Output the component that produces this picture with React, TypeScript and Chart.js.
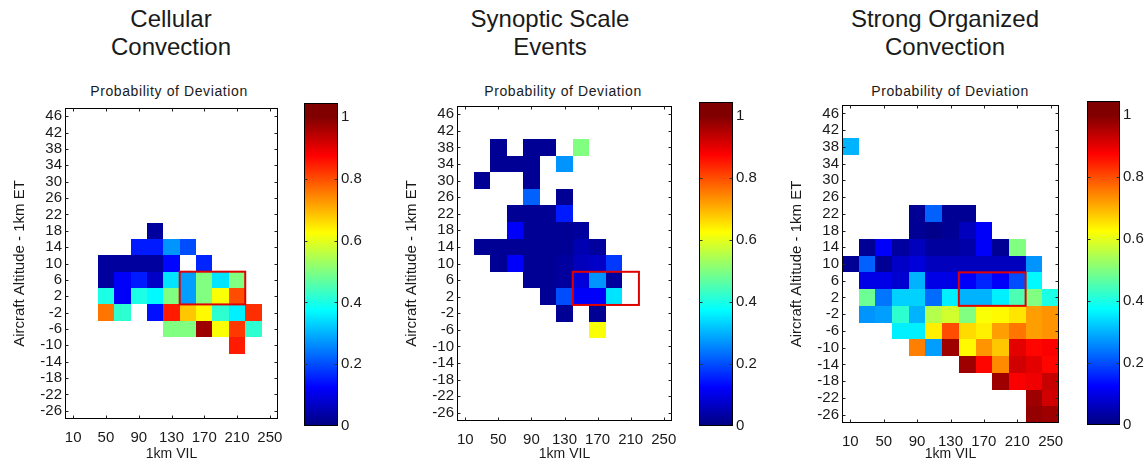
import React, { useEffect, useRef } from "react";
import { Chart, registerables } from "chart.js";

Chart.register(...registerables);

// ---------- data ----------
const vilBins = [10, 30, 50, 70, 90, 110, 130, 150, 170, 190, 210, 230, 250];
const altitudeBins = [46, 42, 38, 34, 30, 26, 22, 18, 14, 10, 6, 2, -2, -6, -10, -14, -18, -22, -26];
const vilTicks = [10, 50, 90, 130, 170, 210, 250];
const colorbarTicks = [0, 0.2, 0.4, 0.6, 0.8, 1];
const highlightVil = [140, 220];
const highlightAlt = [0, 8];

const _ = null;
const E = [_, _, _, _, _, _, _, _, _, _, _, _, _];

// rows: altitude 46 (top) .. -26 (bottom); columns: VIL 10 .. 250
const cellularGrid: (number | null)[][] = [
  E, E, E, E, E, E, E,
  [_, _, _, _, _, 0.03, _, _, _, _, _, _, _],
  [_, _, _, _, 0.15, 0.15, 0.27, 0.2, _, _, _, _, _],
  [_, _, 0.03, 0.03, 0.03, 0.03, 0.13, _, 0.16, _, _, _, _],
  [_, _, 0.03, 0.12, 0.15, 0.07, 0.35, 0.28, 0.5, 0.35, 0.5, _, _],
  [_, _, 0.4, 0.12, 0.4, 0.37, 0.5, 0.28, 0.5, 0.62, 0.8, _, _],
  [_, _, 0.76, 0.42, _, 0.14, 0.85, 0.68, 0.63, 0.42, 0.36, 0.83, _],
  [_, _, _, _, _, _, 0.5, 0.5, 0.97, 0.62, 0.82, 0.42, _],
  [_, _, _, _, _, _, _, _, _, _, 0.85, _, _],
  E, E, E, E,
];

const synopticGrid: (number | null)[][] = [
  E, E,
  [_, _, 0.02, _, 0.02, 0.02, _, 0.5, _, _, _, _, _],
  [_, _, 0.02, 0.02, 0.02, _, 0.27, _, _, _, _, _, _],
  [_, 0.02, _, _, 0.02, _, _, _, _, _, _, _, _],
  [_, _, _, _, 0.22, _, 0.02, _, _, _, _, _, _],
  [_, _, _, 0.02, 0.02, 0.02, 0.15, _, _, _, _, _, _],
  [_, _, _, 0.12, 0.02, 0.02, 0.02, 0.03, _, _, _, _, _],
  [_, 0.02, 0.02, 0.02, 0.02, 0.02, 0.02, 0.05, 0.03, _, _, _, _],
  [_, _, 0.02, 0.12, 0.02, 0.02, 0.03, 0.06, 0.07, 0.18, _, _, _],
  [_, _, _, _, 0.02, 0.02, 0.03, 0.09, 0.27, 0.03, _, _, _],
  [_, _, _, _, _, 0.02, 0.2, 0.12, 0.12, 0.35, _, _, _],
  [_, _, _, _, _, _, 0.02, _, 0.02, _, _, _, _],
  [_, _, _, _, _, _, _, _, 0.62, _, _, _, _],
  E, E, E, E, E,
];

const organizedGrid: (number | null)[][] = [
  E, E,
  [0.3, _, _, _, _, _, _, _, _, _, _, _, _],
  E, E, E,
  [_, _, _, _, 0.02, 0.22, 0.02, 0.02, _, _, _, _, _],
  [_, _, _, _, 0.02, 0.01, 0.02, 0.06, 0.12, _, _, _, _],
  [_, 0.02, 0.12, 0.03, 0.06, 0.03, 0.03, 0.04, 0.12, 0.02, 0.5, _, _],
  [0.02, 0.22, 0.02, 0.07, 0.09, 0.06, 0.06, 0.06, 0.06, 0.06, 0.06, 0.27, _],
  [_, 0.1, 0.1, 0.08, 0.3, 0.1, 0.1, 0.12, 0.16, 0.12, 0.2, 0.37, _],
  [_, 0.48, 0.24, 0.33, 0.33, 0.23, 0.36, 0.3, 0.3, 0.36, 0.45, 0.5, 0.4],
  [_, 0.27, 0.28, 0.42, 0.3, 0.55, 0.58, 0.5, 0.62, 0.63, 0.65, 0.72, 0.73],
  [_, _, _, 0.36, 0.36, 0.64, 0.8, 0.66, 0.64, 0.72, 0.76, 0.72, 0.73],
  [_, _, _, _, 0.75, 0.28, 0.97, 0.63, 0.73, 0.68, 0.9, 0.87, 0.88],
  [_, _, _, _, _, _, _, 0.97, 0.87, 0.74, 0.92, 0.9, 0.87],
  [_, _, _, _, _, _, _, _, _, 0.97, 0.88, 0.89, 0.93],
  [_, _, _, _, _, _, _, _, _, _, _, 0.97, 0.92],
  [_, _, _, _, _, _, _, _, _, _, _, 0.98, 0.97],
];

// ---------- style ----------
const FONT = '"Liberation Sans", Arial, Helvetica, sans-serif';
const TEXT = "#1a1a1a";
const CB_MAX = 1.045;

function jet(v: number): string {
  const c = (t: number) => Math.max(0, Math.min(1, t));
  const r = c(1.5 - Math.abs(4 * v - 3));
  const g = c(1.5 - Math.abs(4 * v - 2));
  const b = c(1.5 - Math.abs(4 * v - 1));
  return `rgb(${Math.round(r * 255)},${Math.round(g * 255)},${Math.round(b * 255)})`;
}

const heatPlugin = {
  id: "heatCells",
  beforeDatasetsDraw(chart: any) {
    const { ctx, scales } = chart;
    const xs = scales.x;
    const ys = scales.y;
    const hw = (vilBins[1] - vilBins[0]) / 2;
    const hh = (altitudeBins[0] - altitudeBins[1]) / 2;
    ctx.save();
    for (const p of chart.data.datasets[0].data as any[]) {
      const x0 = Math.round(xs.getPixelForValue(p.x - hw));
      const x1 = Math.round(xs.getPixelForValue(p.x + hw));
      const y0 = Math.round(ys.getPixelForValue(p.y + hh));
      const y1 = Math.round(ys.getPixelForValue(p.y - hh));
      ctx.fillStyle = jet(p.v);
      ctx.fillRect(x0, y0, x1 - x0, y1 - y0);
    }
    ctx.restore();
  },
  afterDraw(chart: any) {
    const { ctx, chartArea: a, scales } = chart;
    const xs = scales.x;
    const ys = scales.y;
    ctx.save();
    // highlight box
    ctx.strokeStyle = "#e00000";
    ctx.lineWidth = 2;
    const bx0 = xs.getPixelForValue(highlightVil[0]);
    const bx1 = xs.getPixelForValue(highlightVil[1]);
    const by0 = ys.getPixelForValue(highlightAlt[1]);
    const by1 = ys.getPixelForValue(highlightAlt[0]);
    ctx.strokeRect(bx0, by0, bx1 - bx0, by1 - by0);
    // frame
    ctx.strokeStyle = "#000";
    ctx.lineWidth = 1;
    const L = Math.round(a.left) + 0.5, R = Math.round(a.right) - 0.5;
    const T = Math.round(a.top) + 0.5, B = Math.round(a.bottom) - 0.5;
    ctx.strokeRect(L, T, R - L, B - T);
    // inward ticks
    ctx.strokeStyle = "#222";
    ctx.beginPath();
    for (const v of vilTicks) {
      const x = Math.round(xs.getPixelForValue(v)) + 0.5;
      ctx.moveTo(x, B); ctx.lineTo(x, B - 3);
      ctx.moveTo(x, T); ctx.lineTo(x, T + 3);
    }
    for (const v of altitudeBins) {
      const y = Math.round(ys.getPixelForValue(v)) + 0.5;
      ctx.moveTo(L, y); ctx.lineTo(L + 3, y);
      ctx.moveTo(R, y); ctx.lineTo(R - 3, y);
    }
    ctx.stroke();
    ctx.restore();
  },
};

type Box = { left: number; right: number; top: number; bottom: number };

function HeatPanel({ grid, plot }: { grid: (number | null)[][]; plot: Box }) {
  const ref = useRef<HTMLCanvasElement>(null);
  const yAxisW = 65;
  const rightPad = 12;
  const left = plot.left - yAxisW;
  const width = plot.right - left + rightPad;
  useEffect(() => {
    const points: any[] = [];
    grid.forEach((row, i) =>
      row.forEach((v, j) => {
        if (v !== null && v !== undefined) points.push({ x: vilBins[j], y: altitudeBins[i], v });
      })
    );
    const chart = new Chart(ref.current as HTMLCanvasElement, {
      type: "scatter",
      data: { datasets: [{ data: points, pointRadius: 0, pointHoverRadius: 0 }] },
      options: {
        animation: false,
        responsive: false,
        maintainAspectRatio: false,
        events: [],
        layout: { padding: { left: 0, right: rightPad, top: plot.top, bottom: 0 } },
        plugins: { legend: { display: false }, tooltip: { enabled: false } },
        scales: {
          x: {
            type: "linear",
            position: "bottom",
            min: 0,
            max: 260,
            afterBuildTicks: (s: any) => { s.ticks = vilTicks.map((v) => ({ value: v })); },
            afterFit: (s: any) => { s.height = 465 - plot.bottom; s.paddingLeft = 0; s.paddingRight = 0; },
            grid: { display: false, drawTicks: false },
            border: { display: false },
            ticks: {
              autoSkip: false, maxRotation: 0, padding: 10, color: TEXT,
              font: { family: FONT, size: 15 },
              callback: (v: any) => String(v),
            },
            title: {
              display: true, text: "1km VIL", color: TEXT,
              font: { family: FONT, size: 14 }, padding: { top: 0, bottom: 2 },
            },
          },
          y: {
            type: "linear",
            position: "left",
            min: -28,
            max: 48,
            afterBuildTicks: (s: any) => { s.ticks = altitudeBins.map((v) => ({ value: v })); },
            afterFit: (s: any) => { s.width = yAxisW; },
            grid: { display: false, drawTicks: false },
            border: { display: false },
            ticks: {
              autoSkip: false, padding: 3, color: TEXT,
              font: { family: FONT, size: 15 },
              callback: (v: any) => String(v),
            },
            title: {
              display: true, text: "Aircraft Altitude - 1km ET", color: TEXT,
              font: { family: FONT, size: 15 }, padding: { top: 11, bottom: 0 },
            },
          },
        },
      } as any,
      plugins: [heatPlugin],
    });
    return () => chart.destroy();
  }, []);
  return (
    <canvas
      ref={ref}
      width={width}
      height={465}
      style={{ position: "absolute", left, top: 0, width, height: 465 }}
    />
  );
}

const colorbarPlugin = {
  id: "cbFrame",
  afterDraw(chart: any) {
    const { ctx, chartArea: a, scales } = chart;
    const ys = scales.y;
    ctx.save();
    ctx.strokeStyle = "#000";
    ctx.lineWidth = 1;
    const L = Math.round(a.left) + 0.5, R = Math.round(a.right) - 0.5;
    const T = Math.round(a.top) + 0.5, B = Math.round(a.bottom) - 0.5;
    ctx.strokeRect(L, T, R - L, B - T);
    ctx.strokeStyle = "#333";
    ctx.beginPath();
    for (const v of colorbarTicks) {
      if (v === 0 || v === 1) continue;
      const y = Math.round(ys.getPixelForValue(v)) + 0.5;
      ctx.moveTo(L, y); ctx.lineTo(L + 3, y);
      ctx.moveTo(R, y); ctx.lineTo(R - 3, y);
    }
    ctx.stroke();
    ctx.restore();
  },
};

function Colorbar({ box }: { box: Box }) {
  const ref = useRef<HTMLCanvasElement>(null);
  const axisW = 40;
  const width = box.right - box.left + axisW;
  useEffect(() => {
    const chart = new Chart(ref.current as HTMLCanvasElement, {
      type: "bar",
      data: {
        labels: ["p"],
        datasets: [
          {
            data: [[0, CB_MAX]] as any,
            barPercentage: 1,
            categoryPercentage: 1,
            borderWidth: 0,
            backgroundColor: (c: any) => {
              const ch = c.chart;
              if (!ch.chartArea) return "#000080";
              const ys = ch.scales.y;
              const g = ch.ctx.createLinearGradient(0, ys.getPixelForValue(0), 0, ys.getPixelForValue(1));
              for (let i = 0; i <= 32; i++) g.addColorStop(i / 32, jet(i / 32));
              return g;
            },
          },
        ],
      },
      options: {
        animation: false,
        responsive: false,
        maintainAspectRatio: false,
        events: [],
        layout: { padding: { left: 0, right: 0, top: box.top, bottom: 465 - box.bottom } },
        plugins: { legend: { display: false }, tooltip: { enabled: false } },
        scales: {
          x: { display: false },
          y: {
            type: "linear",
            position: "right",
            min: 0,
            max: CB_MAX,
            afterBuildTicks: (s: any) => { s.ticks = colorbarTicks.map((v) => ({ value: v })); },
            afterFit: (s: any) => { s.width = axisW; },
            grid: { display: false, drawTicks: false },
            border: { display: false },
            ticks: {
              autoSkip: false, padding: 3, color: TEXT,
              font: { family: FONT, size: 15 },
              callback: (v: any) => String(v),
            },
          },
        },
      } as any,
      plugins: [colorbarPlugin],
    });
    return () => chart.destroy();
  }, []);
  return (
    <canvas
      ref={ref}
      width={width}
      height={465}
      style={{ position: "absolute", left: box.left, top: 0, width, height: 465 }}
    />
  );
}

const titleStyle = (cx: number): React.CSSProperties => ({
  position: "absolute",
  left: cx - 150,
  width: 300,
  top: 5,
  textAlign: "center",
  fontFamily: FONT,
  fontSize: 24,
  lineHeight: "28px",
  color: TEXT,
  whiteSpace: "nowrap",
});

const subStyle = (cx: number): React.CSSProperties => ({
  position: "absolute",
  left: cx - 120,
  width: 240,
  top: 83,
  textAlign: "center",
  fontFamily: FONT,
  fontSize: 14,
  lineHeight: "16px",
  letterSpacing: "0.6px",
  color: TEXT,
  whiteSpace: "nowrap",
});

export default function App() {
  return (
    <div
      style={{
        position: "fixed",
        left: 0,
        top: 0,
        width: 1148,
        height: 465,
        background: "#fff",
        overflow: "hidden",
      }}
    >
      <div style={titleStyle(171)}>Cellular<br />Convection</div>
      <div style={titleStyle(550)}>Synoptic Scale<br />Events</div>
      <div style={titleStyle(945)}>Strong Organized<br />Convection</div>
      <div style={subStyle(169)}>Probability of Deviation</div>
      <div style={subStyle(563)}>Probability of Deviation</div>
      <div style={subStyle(950)}>Probability of Deviation</div>
      <HeatPanel grid={cellularGrid} plot={{ left: 65, right: 278, top: 108, bottom: 419 }} />
      <HeatPanel grid={synopticGrid} plot={{ left: 457, right: 672, top: 106, bottom: 421 }} />
      <HeatPanel grid={organizedGrid} plot={{ left: 842, right: 1059, top: 105, bottom: 423 }} />
      <Colorbar box={{ left: 304, right: 338, top: 103, bottom: 426 }} />
      <Colorbar box={{ left: 699, right: 733, top: 102, bottom: 426 }} />
      <Colorbar box={{ left: 1087, right: 1120, top: 101, bottom: 425 }} />
    </div>
  );
}
